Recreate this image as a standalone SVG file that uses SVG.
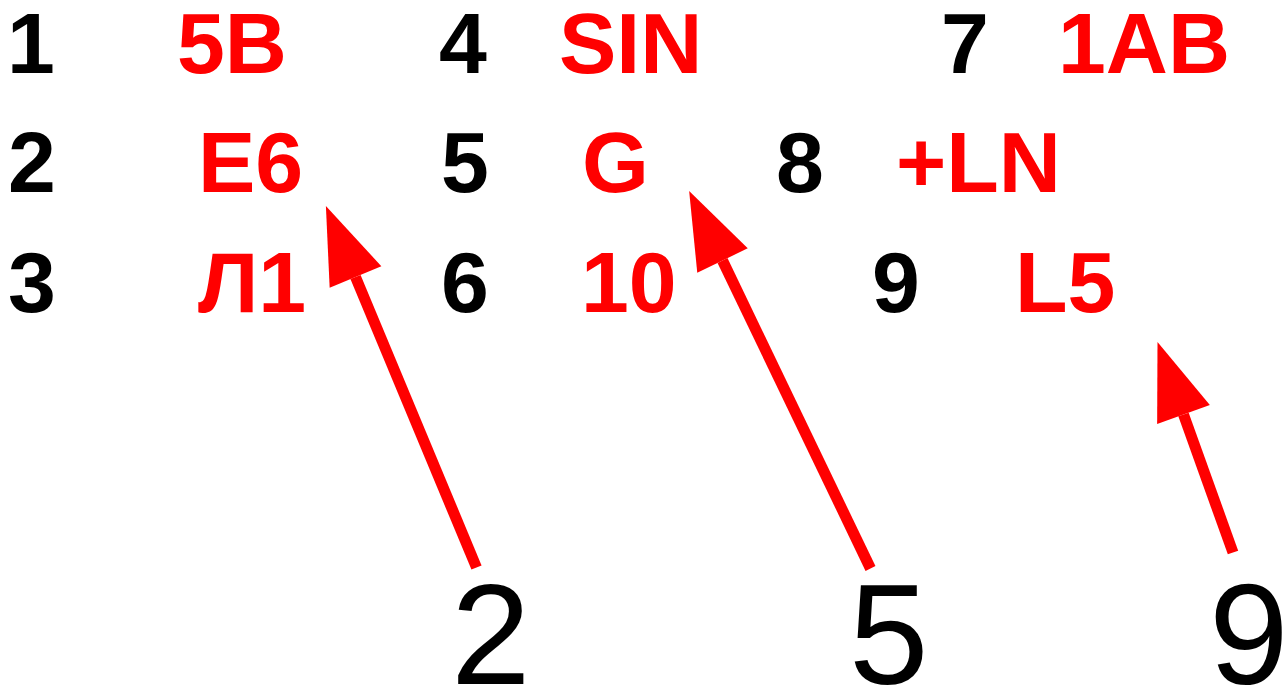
<svg xmlns="http://www.w3.org/2000/svg" width="1287" height="686" viewBox="0 0 1287 686">
<style>
.n{font-family:"Liberation Sans",Arial,sans-serif;font-weight:bold;font-size:86px;fill:#000}
.r{font-family:"Liberation Sans",Arial,sans-serif;font-weight:bold;font-size:86px;fill:#FF0000}
.big{font-family:"Liberation Sans",Arial,sans-serif;font-size:143px;fill:#000}
.arr{stroke:#FF0000;stroke-width:11;fill:none;marker-end:url(#ah)}
</style>
<defs>
<marker id="ah" markerUnits="userSpaceOnUse" markerWidth="78" markerHeight="57" refX="0" refY="28" orient="auto" overflow="visible">
<path d="M0,0 L77,28 L0,56 Z" fill="#FF0000"/>
</marker>
</defs>
<rect width="1287" height="686" fill="#FFFFFF"/>
<g id="row1">
<text class="n" x="7" y="73">1</text>
<text class="r" x="177" y="73">5B</text>
<text class="n" x="439" y="73">4</text>
<text class="r" x="559" y="73">SIN</text>
<text class="n" x="941" y="73">7</text>
<text class="r" x="1058" y="73">1AB</text>
</g>
<g id="row2">
<text class="n" x="8" y="192">2</text>
<text class="r" x="198" y="192">E6</text>
<text class="n" x="441" y="192">5</text>
<text class="r" x="582" y="192">G</text>
<text class="n" x="776" y="192">8</text>
<text class="r" x="896" y="192">+LN</text>
</g>
<g id="row3">
<text class="n" x="8" y="312">3</text>
<text class="r" x="198" y="312">Л1</text>
<text class="n" x="441" y="312">6</text>
<text class="r" x="581" y="312">10</text>
<text class="n" x="872" y="312">9</text>
<text class="r" x="1015" y="312">L5</text>
</g>
<g id="labels">
<text class="big" x="451" y="684">2</text>
<text class="big" x="849" y="684">5</text>
<text class="big" x="1209" y="684">9</text>
</g>
<g id="connectors">
<line class="arr" x1="476.5" y1="567.5" x2="355.5" y2="277"/>
<line class="arr" x1="870.5" y1="568.5" x2="722.5" y2="260.5"/>
<line class="arr" x1="1233" y1="552.5" x2="1183.5" y2="414.5"/>
</g>
</svg>
